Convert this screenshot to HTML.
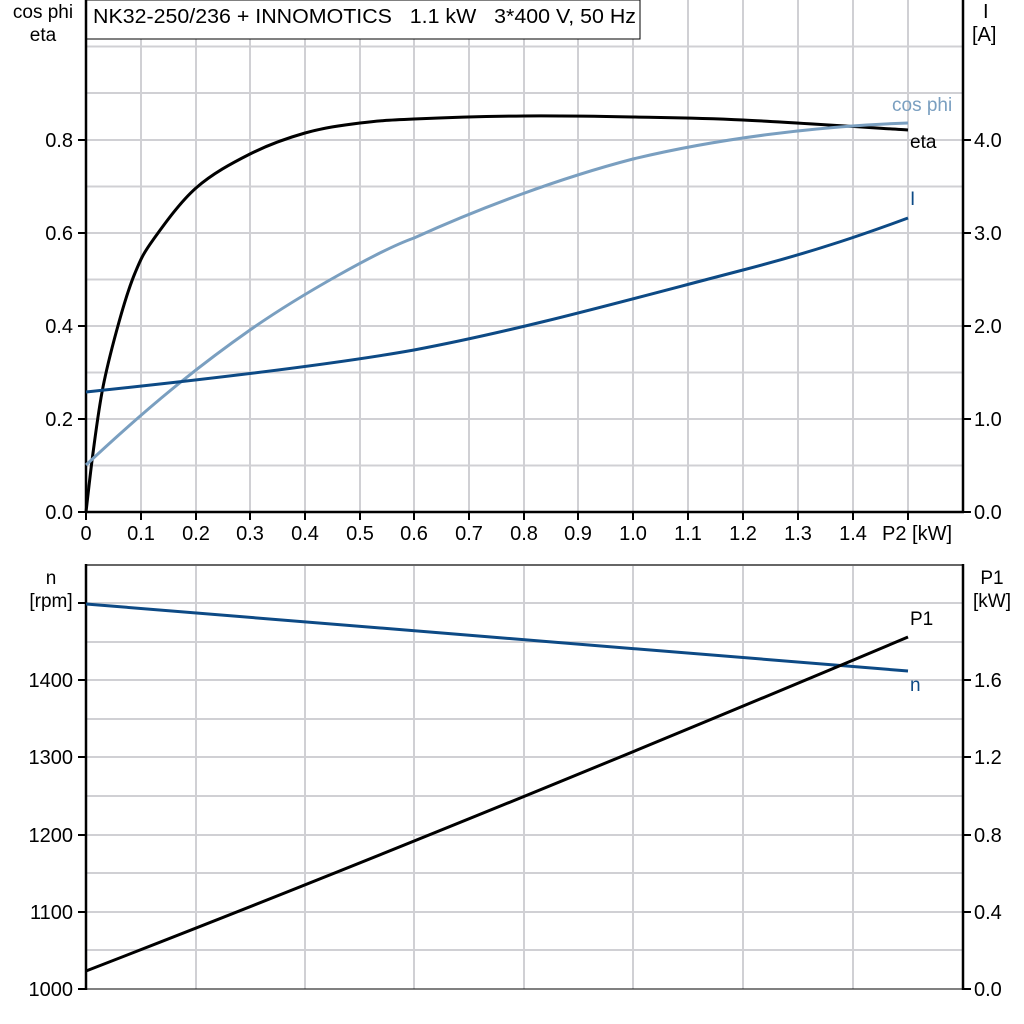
<!DOCTYPE html>
<html><head><meta charset="utf-8"><style>
body{margin:0;background:#fff;}
svg{display:block;font-family:"Liberation Sans",sans-serif;}
text{white-space:pre;}
</style></head><body>
<svg width="1024" height="1024" viewBox="0 0 1024 1024">
<rect width="1024" height="1024" fill="#fff"/>
<g stroke="#d0d0d4" stroke-width="2">
<line x1="141" y1="0" x2="141" y2="512"/><line x1="196" y1="0" x2="196" y2="512"/><line x1="250" y1="0" x2="250" y2="512"/><line x1="305" y1="0" x2="305" y2="512"/><line x1="360" y1="0" x2="360" y2="512"/><line x1="414" y1="0" x2="414" y2="512"/><line x1="469" y1="0" x2="469" y2="512"/><line x1="524" y1="0" x2="524" y2="512"/><line x1="578" y1="0" x2="578" y2="512"/><line x1="633" y1="0" x2="633" y2="512"/><line x1="688" y1="0" x2="688" y2="512"/><line x1="743" y1="0" x2="743" y2="512"/><line x1="798" y1="0" x2="798" y2="512"/><line x1="853" y1="0" x2="853" y2="512"/><line x1="908" y1="0" x2="908" y2="512"/>
<line x1="86" y1="46.5" x2="963" y2="46.5"/><line x1="86" y1="93" x2="963" y2="93"/><line x1="86" y1="140" x2="963" y2="140"/><line x1="86" y1="186.5" x2="963" y2="186.5"/><line x1="86" y1="233" x2="963" y2="233"/><line x1="86" y1="279.5" x2="963" y2="279.5"/><line x1="86" y1="326" x2="963" y2="326"/><line x1="86" y1="372.5" x2="963" y2="372.5"/><line x1="86" y1="419" x2="963" y2="419"/><line x1="86" y1="465.5" x2="963" y2="465.5"/>
</g>
<rect x="86" y="0" width="554" height="39" fill="#fff" stroke="#000" stroke-width="1"/>
<text x="93" y="23" font-size="20" textLength="543" lengthAdjust="spacingAndGlyphs">NK32-250/236 + INNOMOTICS   1.1 kW   3*400 V, 50 Hz</text>
<g stroke="#000" stroke-width="2.5" fill="none">
<line x1="86" y1="0" x2="86" y2="513"/><line x1="963" y1="0" x2="963" y2="513"/><line x1="85" y1="512" x2="964" y2="512"/>
</g>
<g stroke="#000" stroke-width="2">
<line x1="78" y1="512" x2="86" y2="512"/><line x1="78" y1="419" x2="86" y2="419"/><line x1="78" y1="326" x2="86" y2="326"/><line x1="78" y1="233" x2="86" y2="233"/><line x1="78" y1="140" x2="86" y2="140"/>
<line x1="963" y1="512" x2="971" y2="512"/><line x1="963" y1="419" x2="971" y2="419"/><line x1="963" y1="326" x2="971" y2="326"/><line x1="963" y1="233" x2="971" y2="233"/><line x1="963" y1="140" x2="971" y2="140"/>
<line x1="86" y1="512" x2="86" y2="520"/><line x1="141" y1="512" x2="141" y2="520"/><line x1="196" y1="512" x2="196" y2="520"/><line x1="250" y1="512" x2="250" y2="520"/><line x1="305" y1="512" x2="305" y2="520"/><line x1="360" y1="512" x2="360" y2="520"/><line x1="414" y1="512" x2="414" y2="520"/><line x1="469" y1="512" x2="469" y2="520"/><line x1="524" y1="512" x2="524" y2="520"/><line x1="578" y1="512" x2="578" y2="520"/><line x1="633" y1="512" x2="633" y2="520"/><line x1="688" y1="512" x2="688" y2="520"/><line x1="743" y1="512" x2="743" y2="520"/><line x1="798" y1="512" x2="798" y2="520"/><line x1="853" y1="512" x2="853" y2="520"/><line x1="908" y1="512" x2="908" y2="520"/>
</g>
<g font-size="20" text-anchor="end">
<text x="73" y="519">0.0</text><text x="73" y="426">0.2</text><text x="73" y="333">0.4</text><text x="73" y="240">0.6</text><text x="73" y="147">0.8</text>
</g>
<g font-size="20">
<text x="974" y="519">0.0</text><text x="974" y="426">1.0</text><text x="974" y="333">2.0</text><text x="974" y="240">3.0</text><text x="974" y="147">4.0</text>
<text x="983" y="18">I</text><text x="972" y="41">[A]</text>
</g>
<g font-size="19" text-anchor="middle">
<text x="43" y="18">cos phi</text><text x="43" y="41">eta</text>
</g>
<g font-size="20" text-anchor="middle">
<text x="86" y="540">0</text><text x="141" y="540">0.1</text><text x="196" y="540">0.2</text><text x="250" y="540">0.3</text><text x="305" y="540">0.4</text><text x="360" y="540">0.5</text><text x="414" y="540">0.6</text><text x="469" y="540">0.7</text><text x="524" y="540">0.8</text><text x="578" y="540">0.9</text><text x="633" y="540">1.0</text><text x="688" y="540">1.1</text><text x="743" y="540">1.2</text><text x="798" y="540">1.3</text><text x="853" y="540">1.4</text>
</g>
<text x="882" y="540" font-size="20">P2 [kW]</text>
<path d="M86,512 C87.2,502.2 90.2,473.8 93,453 C95.8,432.2 98.7,408.8 103,387 C107.3,365.2 113.7,341 119,322 C124.3,303 129.3,286.7 135,273 C140.7,259.3 142.8,254.2 153,240 C163.2,225.8 179.8,202.3 196,188 C212.2,173.7 231.8,163.2 250,154 C268.2,144.8 286.7,138.2 305,133 C323.3,127.8 341.8,125.3 360,123 C378.2,120.7 386.7,120.2 414,119 C441.3,117.8 487.5,116.3 524,116 C560.5,115.7 596.5,116.3 633,117 C669.5,117.7 697.2,117.8 743,120 C788.8,122.2 880.5,128.3 908,130" fill="none" stroke="#000" stroke-width="3"/>
<path d="M86,465 C150,405 200,365 250,330 C300,295 380,250 414,238 C480,208 560,178 633,159 C720,138 820,126 908,123" fill="none" stroke="#7a9fc0" stroke-width="3"/>
<path d="M86,392 C200,380 330,365 414,350 C520,330 620,302 743,270 C820,250 870,232 908,218" fill="none" stroke="#0d4a85" stroke-width="3"/>
<text x="892" y="111" font-size="19" fill="#7a9fc0">cos phi</text>
<text x="910" y="148" font-size="19">eta</text>
<text x="910" y="205" font-size="19" fill="#0d4a85">I</text>
<g stroke="#d0d0d4" stroke-width="2">
<line x1="196" y1="565" x2="196" y2="989"/><line x1="305" y1="565" x2="305" y2="989"/><line x1="414" y1="565" x2="414" y2="989"/><line x1="524" y1="565" x2="524" y2="989"/><line x1="633" y1="565" x2="633" y2="989"/><line x1="743" y1="565" x2="743" y2="989"/><line x1="853" y1="565" x2="853" y2="989"/>
<line x1="86" y1="603" x2="963" y2="603"/><line x1="86" y1="642" x2="963" y2="642"/><line x1="86" y1="680" x2="963" y2="680"/><line x1="86" y1="719" x2="963" y2="719"/><line x1="86" y1="757" x2="963" y2="757"/><line x1="86" y1="796" x2="963" y2="796"/><line x1="86" y1="835" x2="963" y2="835"/><line x1="86" y1="873" x2="963" y2="873"/><line x1="86" y1="912" x2="963" y2="912"/><line x1="86" y1="950" x2="963" y2="950"/>
</g>
<line x1="86" y1="565" x2="963" y2="565" stroke="#666" stroke-width="2"/>
<line x1="86" y1="989" x2="963" y2="989" stroke="#000" stroke-width="1"/>
<g stroke="#000" stroke-width="2.5"><line x1="86" y1="564" x2="86" y2="990"/><line x1="963" y1="564" x2="963" y2="990"/></g>
<g stroke="#000" stroke-width="2">
<line x1="78" y1="603" x2="86" y2="603"/><line x1="78" y1="680" x2="86" y2="680"/><line x1="78" y1="757" x2="86" y2="757"/><line x1="78" y1="835" x2="86" y2="835"/><line x1="78" y1="912" x2="86" y2="912"/><line x1="78" y1="989" x2="86" y2="989"/>
<line x1="963" y1="680" x2="971" y2="680"/><line x1="963" y1="757" x2="971" y2="757"/><line x1="963" y1="835" x2="971" y2="835"/><line x1="963" y1="912" x2="971" y2="912"/><line x1="963" y1="989" x2="971" y2="989"/>
</g>
<g font-size="20" text-anchor="end">
<text x="73" y="687">1400</text><text x="73" y="764">1300</text><text x="73" y="842">1200</text><text x="73" y="919">1100</text><text x="73" y="996">1000</text>
</g>
<g font-size="19" text-anchor="middle"><text x="51" y="584">n</text><text x="51" y="607">[rpm]</text><text x="992" y="584">P1</text><text x="992" y="607">[kW]</text></g>
<g font-size="20"><text x="974" y="687">1.6</text><text x="974" y="764">1.2</text><text x="974" y="842">0.8</text><text x="974" y="919">0.4</text><text x="974" y="996">0.0</text></g>
<line x1="86" y1="604" x2="908" y2="671" stroke="#0d4a85" stroke-width="3"/>
<path d="M86,971 Q450,830 908,637" fill="none" stroke="#000" stroke-width="3"/>
<text x="910" y="625" font-size="19">P1</text>
<text x="910" y="691" font-size="19" fill="#0d4a85">n</text>
</svg>
</body></html>
